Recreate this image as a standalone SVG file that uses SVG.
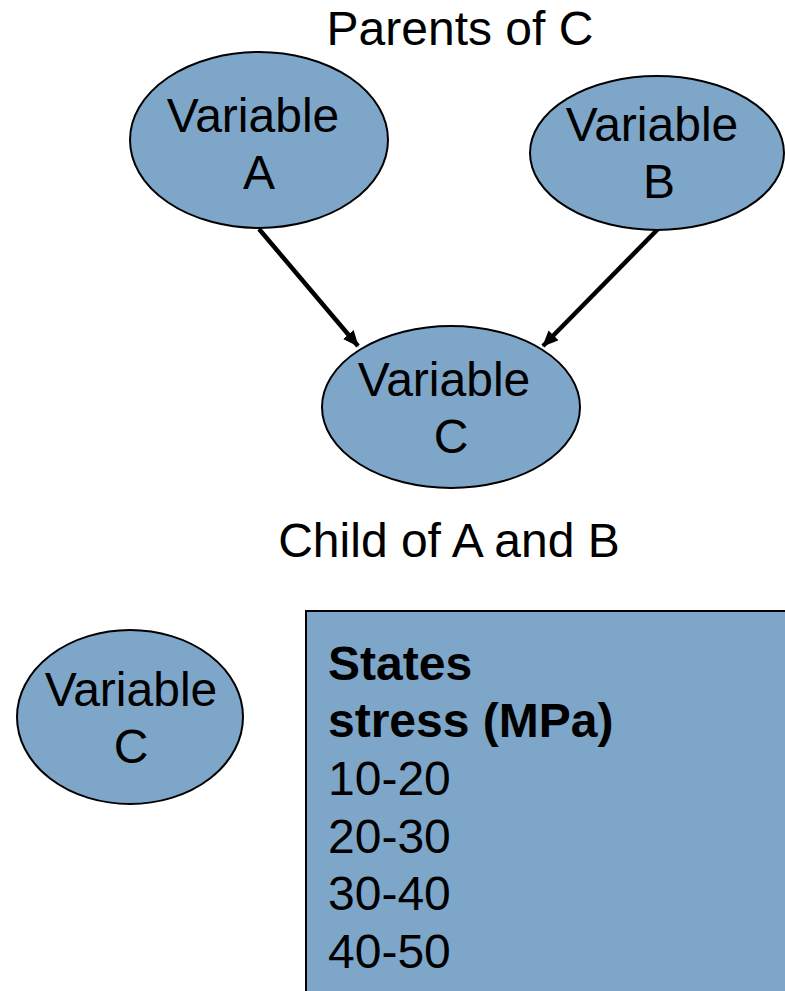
<svg xmlns="http://www.w3.org/2000/svg" width="785" height="991" viewBox="0 0 785 991">
  <style>
    .node { fill: #7ea6c8; stroke: #000; stroke-width: 2; }
    .lbl { font-family: "Liberation Sans", Arial, sans-serif; font-size: 48px; fill: #000; }
    .mid { text-anchor: middle; }
    .bold { font-weight: bold; }
    .edge { stroke: #000; stroke-width: 4.5; fill: none; }
  </style>
  <defs>
    <marker id="arrow" markerUnits="userSpaceOnUse" markerWidth="16" markerHeight="14" refX="15" refY="7" orient="auto">
      <path d="M0,0 L16,7 L0,14 Z" fill="#000"/>
    </marker>
  </defs>

  <rect width="785" height="991" fill="#fff"/>

  <text class="lbl mid" x="460" y="45">Parents of C</text>
  <text class="lbl mid" x="449" y="557">Child of A and B</text>

  <g id="connectors">
    <line class="edge" x1="259" y1="229" x2="358" y2="346" marker-end="url(#arrow)"/>
    <line class="edge" x1="658" y1="229" x2="543" y2="346" marker-end="url(#arrow)"/>
  </g>

  <g id="varA">
    <ellipse class="node" cx="259" cy="140" rx="129" ry="88"/>
    <text class="lbl mid" x="253" y="132">Variable</text>
    <text class="lbl mid" x="259" y="189">A</text>
  </g>

  <g id="varB">
    <ellipse class="node" cx="657" cy="153" rx="127" ry="77"/>
    <text class="lbl mid" x="652" y="141">Variable</text>
    <text class="lbl mid" x="659" y="198">B</text>
  </g>

  <g id="varC">
    <ellipse class="node" cx="451" cy="407" rx="129" ry="81"/>
    <text class="lbl mid" x="444" y="396">Variable</text>
    <text class="lbl mid" x="451" y="453">C</text>
  </g>

  <g id="varC2">
    <ellipse class="node" cx="130" cy="717" rx="113" ry="87"/>
    <text class="lbl mid" x="131" y="706">Variable</text>
    <text class="lbl mid" x="131" y="763">C</text>
  </g>

  <g id="states">
    <rect class="node" x="306" y="611" width="500" height="400"/>
    <text class="lbl bold" x="328" y="680">States</text>
    <text class="lbl bold" x="328" y="737">stress (MPa)</text>
    <text class="lbl" x="328" y="795">10-20</text>
    <text class="lbl" x="328" y="853">20-30</text>
    <text class="lbl" x="328" y="910">30-40</text>
    <text class="lbl" x="328" y="968">40-50</text>
  </g>
</svg>
